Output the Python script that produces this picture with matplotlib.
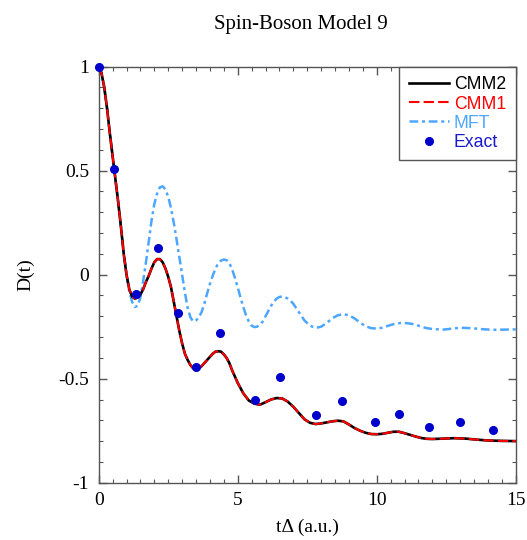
import matplotlib
matplotlib.use("Agg")
import matplotlib.pyplot as plt
from matplotlib.ticker import MultipleLocator

title = "Spin-Boson Model 9"
xlabel = "t\u0394 (a.u.)"
ylabel = "D(t)"

t_cmm = [0, 0.1, 0.2, 0.3, 0.4, 0.5, 0.6, 0.7, 0.8, 0.9, 1.0, 1.1, 1.2, 1.3,
         1.4, 1.5, 1.6, 1.7, 1.8, 1.9, 2.0, 2.1, 2.2, 2.3, 2.4, 2.5, 2.6, 2.7,
         2.8, 2.9, 3.0, 3.1, 3.2, 3.3, 3.4, 3.5, 3.6, 3.7, 3.8, 3.9, 4.0, 4.1,
         4.2, 4.3, 4.4, 4.5, 4.6, 4.7, 4.8, 4.9, 5.0, 5.2, 5.4, 5.6, 5.8, 6.0,
         6.2, 6.4, 6.6, 6.8, 7.0, 7.2, 7.4, 7.6, 7.8, 8.0, 8.2, 8.4, 8.6, 8.8,
         9.0, 9.2, 9.4, 9.6, 9.8, 10.0, 10.2, 10.4, 10.6, 10.8, 11.0, 11.2,
         11.4, 11.6, 11.8, 12.0, 12.4, 12.8, 13.2, 13.6, 14.0, 14.5, 15.0]
cmm2 = [1.0, 0.97, 0.90, 0.80, 0.68, 0.57, 0.46, 0.35, 0.23, 0.10, 0.0, -0.07,
        -0.105, -0.115, -0.11, -0.095, -0.07, -0.035, -0.005, 0.03, 0.06, 0.075,
        0.075, 0.06, 0.03, -0.01, -0.06, -0.13, -0.20, -0.27, -0.33, -0.38, -0.41,
        -0.435, -0.45, -0.455, -0.45, -0.44, -0.425, -0.41, -0.395, -0.38, -0.37,
        -0.368, -0.37, -0.383, -0.40, -0.425, -0.46, -0.49, -0.52, -0.57, -0.605,
        -0.62, -0.625, -0.613, -0.60, -0.593, -0.595, -0.61, -0.635, -0.665,
        -0.695, -0.712, -0.718, -0.715, -0.71, -0.705, -0.702, -0.705, -0.72,
        -0.737, -0.75, -0.76, -0.766, -0.767, -0.765, -0.76, -0.755, -0.755,
        -0.762, -0.77, -0.778, -0.785, -0.789, -0.79, -0.788, -0.786, -0.788,
        -0.793, -0.797, -0.799, -0.80]
cmm1 = list(cmm2)

t_mft = [0, 0.1, 0.2, 0.3, 0.4, 0.5, 0.6, 0.7, 0.8, 0.9, 1.0, 1.1, 1.2, 1.3,
         1.4, 1.5, 1.6, 1.7, 1.8, 1.9, 2.0, 2.1, 2.2, 2.3, 2.4, 2.5, 2.6, 2.7,
         2.8, 2.9, 3.0, 3.1, 3.2, 3.3, 3.4, 3.5, 3.6, 3.7, 3.8, 3.9, 4.0, 4.1,
         4.2, 4.3, 4.4, 4.5, 4.6, 4.7, 4.8, 4.9, 5.0, 5.1, 5.2, 5.3, 5.4, 5.5,
         5.6, 5.7, 5.8, 5.9, 6.0, 6.1, 6.2, 6.3, 6.4, 6.5, 6.6, 6.7, 6.8, 6.9,
         7.0, 7.2, 7.4, 7.6, 7.8, 8.0, 8.2, 8.4, 8.6, 8.8, 9.0, 9.2, 9.4, 9.6,
         9.8, 10.0, 10.2, 10.4, 10.6, 10.8, 11.0, 11.2, 11.4, 11.6, 11.8, 12.0,
         12.4, 12.8, 13.0, 13.4, 13.8, 14.2, 14.6, 15.0]
mft = [1.0, 0.97, 0.90, 0.80, 0.68, 0.57, 0.46, 0.35, 0.23, 0.11, 0.0, -0.08,
       -0.13, -0.155, -0.15, -0.11, -0.03, 0.06, 0.16, 0.26, 0.34, 0.39, 0.42,
       0.425, 0.41, 0.375, 0.32, 0.25, 0.17, 0.085, 0.0, -0.085, -0.16, -0.205,
       -0.225, -0.22, -0.205, -0.18, -0.14, -0.09, -0.045, -0.005, 0.03, 0.055,
       0.068, 0.073, 0.07, 0.055, 0.025, -0.015, -0.06, -0.11, -0.155, -0.195,
       -0.225, -0.245, -0.252, -0.25, -0.24, -0.225, -0.20, -0.175, -0.15, -0.13,
       -0.115, -0.107, -0.105, -0.108, -0.115, -0.125, -0.14, -0.18, -0.22,
       -0.245, -0.256, -0.25, -0.232, -0.21, -0.195, -0.19, -0.195, -0.21, -0.23,
       -0.248, -0.257, -0.259, -0.255, -0.246, -0.238, -0.233, -0.232, -0.235,
       -0.24, -0.25, -0.257, -0.261, -0.264, -0.258, -0.255, -0.257, -0.262,
       -0.265, -0.264, -0.263]

t_exact = [0.0, 0.55, 1.35, 2.14, 2.84, 3.49, 4.37, 5.62, 6.53, 7.82, 8.74,
           9.95, 10.79, 11.89, 12.99, 14.18]
exact = [1.0, 0.51, -0.093, 0.127, -0.183, -0.442, -0.282, -0.602, -0.494,
         -0.675, -0.609, -0.71, -0.672, -0.732, -0.71, -0.745]

serif = "Liberation Serif"
sans = "Liberation Sans"

fig = plt.figure(figsize=(5.27, 5.40), dpi=100)
ax = fig.add_axes([0.1873, 0.1061, 0.9786 - 0.1873, 0.8765 - 0.1061])

ax.plot(t_cmm, cmm2, color="black", lw=1.9, label="CMM2", zorder=3)
ax.plot(t_cmm, cmm1, color="#ff0000", lw=1.5, dashes=(5, 2), label="CMM1", zorder=4)
ax.plot(t_mft, mft, color="#4da6ff", lw=1.8, dashes=(3.5, 1.5, 1.2, 1.5), label="MFT", zorder=2)
ax.plot(t_exact, exact, "o", color="#0000cc", ms=5.5, label="Exact", zorder=5, clip_on=False)

ax.set_xlim(0, 15)
ax.set_ylim(-1, 1)
ax.xaxis.set_major_locator(MultipleLocator(5))
ax.xaxis.set_minor_locator(MultipleLocator(0.5))
ax.yaxis.set_major_locator(MultipleLocator(0.5))
ax.yaxis.set_minor_locator(MultipleLocator(0.1))
ax.tick_params(which="both", direction="in", top=True, right=True, color="#555555")
ax.tick_params(which="major", length=6, width=1, pad=7)
ax.tick_params(which="minor", length=3, width=0.8)
for s in ax.spines.values():
    s.set_color("#555555")
    s.set_linewidth(1.0)

ax.set_xticks([0, 5, 10, 15])
ax.set_xticklabels(["0", "5", "10", "15"], family=serif, fontsize=14)
ax.set_yticks([-1, -0.5, 0, 0.5, 1])
ax.set_yticklabels(["-1", "-0.5", "0", "0.5", "1"], family=serif, fontsize=14)

ax.set_xlabel(xlabel, family=serif, fontsize=14, labelpad=7)
ax.set_ylabel(ylabel, family=serif, fontsize=14, labelpad=17)
fig.text(0.57, 0.955, title, family=serif, fontsize=15, ha="center", va="center")

leg = ax.legend(loc="upper right", bbox_to_anchor=(1.0, 1.0), borderaxespad=0.0,
                prop={"family": sans, "size": 12.7}, handlelength=2.3,
                handletextpad=0.25, labelspacing=0.12, borderpad=0.55,
                fancybox=False, framealpha=1, edgecolor="#555555")
leg.get_frame().set_linewidth(1.0)
for txt, c in zip(leg.get_texts(), ["black", "#ff0000", "#4da6ff", "#1a1acc"]):
    txt.set_color(c)

fig.savefig("out.png", dpi=100)
